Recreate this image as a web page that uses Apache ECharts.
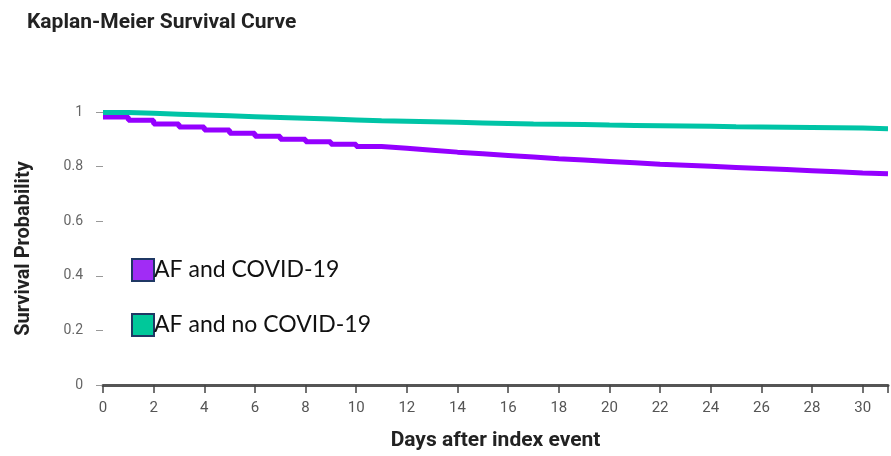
<!DOCTYPE html>
<html>
<head>
<meta charset="utf-8">
<script src="https://cdn.jsdelivr.net/npm/echarts@6/dist/echarts.min.js"></script>
<style>
html,body{margin:0;padding:0;background:#fff;}
#chart{width:891px;height:456px;}
</style>
</head>
<body>
<div id="chart"></div>
<script>
const days = [0,1,2,3,4,5,6,7,8,9,10,11,12,13,14,15,16,17,18,19,20,21,22,23,24,25,26,27,28,29,30,31];
const afCovid = [0.982,0.970,0.956,0.945,0.934,0.922,0.911,0.900,0.891,0.882,0.874,0.867,0.860,0.853,0.847,0.841,0.835,0.829,0.824,0.819,0.814,0.809,0.805,0.801,0.797,0.793,0.789,0.785,0.781,0.777,0.774,0.772];
const afNoCovid = [0.998,0.995,0.992,0.989,0.986,0.983,0.980,0.977,0.974,0.971,0.968,0.966,0.964,0.962,0.960,0.958,0.956,0.955,0.954,0.952,0.951,0.950,0.949,0.948,0.946,0.945,0.944,0.943,0.942,0.941,0.939,0.938];
const seriesNames = ['AF and COVID-19','AF and no COVID-19'];
const yTicks = [0,0.2,0.4,0.6,0.8,1];

const chart = echarts.init(document.getElementById('chart'));
chart.setOption({
  animation:false,
  backgroundColor:'#fff',
  title:{
    text:'Kaplan-Meier Survival Curve',
    left:22, top:12, padding:[0,5],
    textStyle:{fontFamily:'Roboto',fontWeight:'bold',fontSize:21,color:'#222'}
  },
  legend:{
    orient:'vertical',
    left:131, top:258, padding:0,
    itemWidth:22, itemHeight:22, itemGap:31,
    icon:'rect',
    textStyle:{fontFamily:'Lato',fontSize:23,color:'#111',padding:[0,0,0,-5]},
    data:seriesNames
  },
  grid:{left:103,right:-5,top:112,bottom:66,containLabel:false},
  xAxis:{
    type:'value', min:0, max:31, interval:2,
    name:'Days after index event',
    nameLocation:'middle', nameGap:45,
    nameTextStyle:{fontFamily:'Roboto',fontWeight:'bold',fontSize:21,color:'#222'},
    axisLine:{show:true,lineStyle:{color:'#555',width:3}},
    axisTick:{show:true,length:8,lineStyle:{color:'#444',width:1.5}},
    axisLabel:{
      margin:16,fontFamily:'Roboto',fontSize:15,color:'#555',
      formatter:function(v){return (v%2===0)?String(v):'';}
    },
    splitLine:{show:false}
  },
  yAxis:{
    type:'value', min:0, max:1, interval:0.2,
    name:'Survival Probability',
    nameLocation:'middle', nameGap:69,
    nameTextStyle:{fontFamily:'Roboto',fontWeight:'bold',fontSize:20,color:'#222'},
    axisLine:{show:false},
    axisTick:{show:true,length:7,lineStyle:{color:'#999',width:1}},
    axisLabel:{margin:20,fontFamily:'Roboto',fontSize:14,color:'#666',
      formatter:function(v){return yTicks.indexOf(v)>=0?String(v):'';}},
    splitLine:{show:false}
  },
  series:[
    {
      name:seriesNames[0], type:'line', step:'end', symbol:'none',
      itemStyle:{color:'#a12cf5',borderColor:'#1f3864',borderWidth:1.5},
      lineStyle:{color:'#9400ff',width:5},
      data:days.map((d,i)=>[d,afCovid[i]]),
      clip:true
    },
    {
      name:seriesNames[1], type:'line', step:'end', symbol:'none',
      itemStyle:{color:'#00c89a',borderColor:'#1f3864',borderWidth:1.5},
      lineStyle:{color:'#00c4a6',width:5},
      data:days.map((d,i)=>[d,afNoCovid[i]]),
      clip:true
    }
  ]
});
</script>
</body>
</html>
